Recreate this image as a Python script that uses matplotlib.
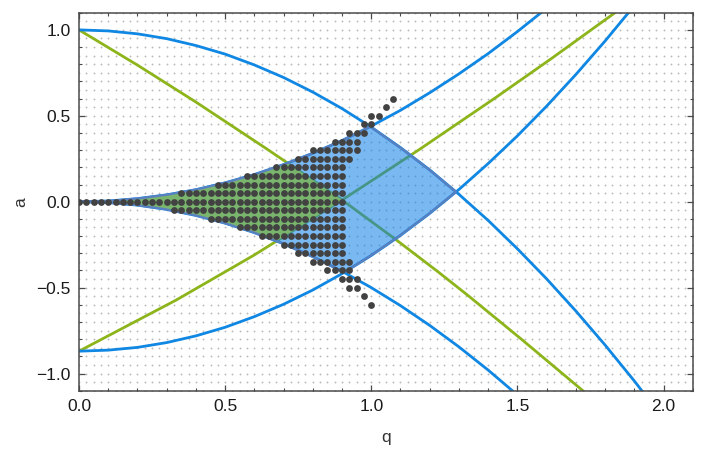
import numpy as np
import matplotlib
matplotlib.use("Agg")
import matplotlib.pyplot as plt
from matplotlib.ticker import MultipleLocator, FixedLocator

plt.rcParams['font.family'] = ['Liberation Sans', 'DejaVu Sans']

# ---- curves (q, a) ----
q_grid = [0.0, 0.1, 0.2, 0.3, 0.4, 0.5, 0.6, 0.7, 0.8, 0.9, 1.0,
          1.1, 1.2, 1.3, 1.4, 1.5, 1.6, 1.7, 1.8, 1.9, 2.0]
# blue curve starting at a = 1 (upper-right boundary)
curve_from_top = [1.0, 0.994, 0.977, 0.949, 0.909, 0.859, 0.796, 0.723, 0.638, 0.542, 0.434,
                  0.315, 0.185, 0.043, -0.109, -0.274, -0.449, -0.636, -0.834, -1.043, -1.264]
# blue curve starting at a = -0.87 (lower-right boundary)
curve_from_bottom = [-0.87, -0.864, -0.848, -0.820, -0.781, -0.731, -0.669, -0.597, -0.514, -0.419, -0.313,
                     -0.196, -0.068, 0.071, 0.222, 0.383, 0.556, 0.740, 0.935, 1.141, 1.358]
# blue curve starting at the origin going up (upper-left boundary)
curve_upper_edge = [0.0, 0.004, 0.018, 0.040, 0.070, 0.110, 0.158, 0.216, 0.282, 0.356, 0.440,
                    0.532, 0.634, 0.744, 0.862, 0.990, 1.126, 1.272, 1.426, 1.588, 1.760]
# blue curve starting at the origin going down (lower-left boundary)
curve_lower_edge = [0.0, -0.005, -0.020, -0.045, -0.080, -0.125, -0.180, -0.245, -0.320, -0.405, -0.500,
                    -0.605, -0.720, -0.845, -0.980, -1.125, -1.280, -1.445, -1.620, -1.805, -2.000]

# green curves
green1_q = [0.0, 0.2, 0.4, 0.64, 0.9, 1.08, 1.23, 1.334, 1.51, 1.724, 1.8]
green1_a = [1.0, 0.795, 0.58, 0.31, 0.01, -0.215, -0.41, -0.55, -0.795, -1.1, -1.21]
green2_q = [0.0, 0.333, 0.6, 0.896, 1.163, 1.425, 1.618, 1.834, 1.9]
green2_a = [-0.87, -0.572, -0.31, 0.005, 0.302, 0.605, 0.835, 1.1, 1.18]

# stable sample points (black dots): per row of a, first and last q column
dot_rows_a = [0.6, 0.55, 0.5, 0.45, 0.4, 0.35, 0.3, 0.25, 0.2, 0.15, 0.1, 0.05, 0.0,
              -0.05, -0.1, -0.15, -0.2, -0.25, -0.3, -0.35, -0.4, -0.45, -0.5, -0.55, -0.6]
dot_q_start = [1.075, 1.05, 1.0, 0.975, 0.925, 0.875, 0.8, 0.75, 0.675, 0.575, 0.475, 0.35, 0.0,
               0.325, 0.45, 0.55, 0.625, 0.7, 0.75, 0.8, 0.85, 0.9, 0.925, 0.975, 1.0]
dot_q_end = [1.075, 1.05, 1.025, 1.0, 0.975, 0.95, 0.95, 0.925, 0.9, 0.9, 0.9, 0.9, 0.9,
             0.9, 0.9, 0.9, 0.9, 0.9, 0.9, 0.925, 0.925, 0.95, 0.95, 0.975, 1.0]

# sampling grid (gray dots)
grid_dq = 0.025
grid_da = 0.05

x_ticks = [0.0, 0.5, 1.0, 1.5, 2.0]
y_ticks = [-1.0, -0.5, 0.0, 0.5, 1.0]

BLUE = '#0f87e3'
GREEN = '#8db51b'
EDGE = '#5a80bf'
FILL = (0.04, 0.49, 0.90, 0.54)
GFILL = '#7ab56e'
DOT = '#424242'

fig = plt.figure(figsize=(7.06, 4.57), dpi=100)
ax = fig.add_axes([0.1119, 0.1451, 0.8693, 0.8271])
ax.set_xlim(0, 2.1)
ax.set_ylim(-1.1, 1.1)

# gray sample grid
gq = np.arange(0, 2.1 + 1e-9, grid_dq)
ga = np.arange(-1.1, 1.1 + 1e-9, grid_da)
GQ, GA = np.meshgrid(gq, ga)
ax.scatter(GQ.ravel(), GA.ravel(), s=1.8, color='#bababa', linewidths=0, zorder=1)

# lines
ax.plot(green1_q, green1_a, color=GREEN, lw=2.0, zorder=2, solid_capstyle='butt')
ax.plot(green2_q, green2_a, color=GREEN, lw=2.0, zorder=2, solid_capstyle='butt')
for c in (curve_from_top, curve_from_bottom, curve_upper_edge, curve_lower_edge):
    ax.plot(q_grid, c, color=BLUE, lw=2.0, zorder=2, solid_capstyle='butt')

# stability region
qq = np.linspace(0, 2.1, 4201)
cT = np.interp(qq, q_grid, curve_from_top)
cB = np.interp(qq, q_grid, curve_from_bottom)
cU = np.interp(qq, q_grid, curve_upper_edge)
cL = np.interp(qq, q_grid, curve_lower_edge)
g1 = np.interp(qq, green1_q, green1_a)
g2 = np.interp(qq, green2_q, green2_a)

up = np.minimum(cU, cT)
lo = np.maximum(cL, cB)
m = up >= lo
px = np.concatenate([qq[m], qq[m][::-1]])
py = np.concatenate([up[m], lo[m][::-1]])
ax.fill(px, py, facecolor=FILL, edgecolor='none', zorder=3)

gup = np.minimum(up, g1)
glo = np.maximum(lo, g2)
gm = gup >= glo
ax.fill(np.concatenate([qq[gm], qq[gm][::-1]]),
        np.concatenate([gup[gm], glo[gm][::-1]]),
        facecolor=GFILL, edgecolor='none', zorder=3.5)

ax.plot(np.append(px, px[0]), np.append(py, py[0]), color=EDGE, lw=1.6, zorder=4)

# black dots
dx, dy = [], []
for a, s, e in zip(dot_rows_a, dot_q_start, dot_q_end):
    qs = np.arange(s, e + 1e-9, grid_dq)
    dx.extend(qs)
    dy.extend([a] * len(qs))
ax.scatter(dx, dy, s=24, color=DOT, linewidths=0, zorder=5)

# axes styling
for sp in ax.spines.values():
    sp.set_color('#4a4a4a')
    sp.set_linewidth(1.1)
ax.xaxis.set_major_locator(FixedLocator(x_ticks))
ax.yaxis.set_major_locator(FixedLocator(y_ticks))
ax.xaxis.set_minor_locator(MultipleLocator(0.1))
ax.yaxis.set_minor_locator(MultipleLocator(0.1))
ax.set_xticklabels([f"{v:.1f}" for v in x_ticks])
ax.set_yticklabels([f"{v:.1f}".replace('-', '\u2212') for v in y_ticks])
ax.tick_params(which='both', direction='in', top=True, right=True, color='#4a4a4a')
ax.tick_params(which='major', length=4.5, width=0.9, labelsize=12.5, pad=6, labelcolor='#1a1a1a')
ax.tick_params(which='minor', length=2.5, width=0.8)
ax.set_xlabel('q', fontsize=12.5, color='#333333')
ax.xaxis.set_label_coords(0.5, -0.105)
ax.set_ylabel('a', fontsize=12.5, color='#333333')
ax.yaxis.set_label_coords(-0.083, 0.5)

fig.savefig('out.png', dpi=100)
